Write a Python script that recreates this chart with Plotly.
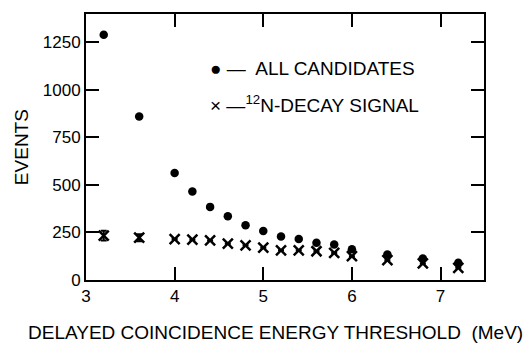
import plotly.graph_objects as go

thresholds = [3.2, 3.6, 4.0, 4.2, 4.4, 4.6, 4.8, 5.0, 5.2, 5.4, 5.6, 5.8, 6.0, 6.4, 6.8, 7.2]
all_candidates = [1288, 859, 562, 465, 384, 335, 288, 257, 229, 215, 196, 187, 161, 134, 113, 90]
n12_signal = [233, 222, 215, 212, 208, 191, 182, 170, 156, 156, 151, 142, 125, 104, 87, 64]
n12_err = [25, 18, 0, 0, 0, 0, 0, 0, 0, 0, 0, 0, 0, 0, 0, 0]

x_ticks = [3, 4, 5, 6, 7]
y_ticks = [0, 250, 500, 750, 1000, 1250]

FONT = "Liberation Sans, Arial, sans-serif"

fig = go.Figure()
fig.add_trace(go.Scatter(
    x=thresholds, y=all_candidates, mode="markers",
    marker=dict(symbol="circle", size=8.5, color="black"),
    showlegend=False))
fig.add_trace(go.Scatter(
    x=thresholds, y=n12_signal, mode="markers",
    marker=dict(symbol="x-thin", size=10, color="black", line=dict(width=2.5, color="black")),
    error_y=dict(type="data", array=n12_err, visible=True, color="black", thickness=2, width=3),
    showlegend=False))

fig.add_annotation(xref="paper", yref="paper", x=0.307, y=0.795, xanchor="left", yanchor="middle",
                   text="\u25CF \u2014  ALL CANDIDATES", showarrow=False,
                   font=dict(family=FONT, size=19, color="black"))
fig.add_annotation(xref="paper", yref="paper", x=0.307, y=0.662, xanchor="left", yanchor="middle",
                   text="\u00D7 \u2014<sup>12</sup>N-DECAY SIGNAL", showarrow=False,
                   font=dict(family=FONT, size=19, color="black"))

# axis titles as annotations (x title is wider than the plot area)
fig.add_annotation(xref="paper", yref="paper", x=0.477, y=-0.198, xanchor="center", yanchor="middle",
                   text="DELAYED COINCIDENCE ENERGY THRESHOLD\u00A0\u00A0(MeV)", showarrow=False,
                   font=dict(family=FONT, size=19, color="black"))
fig.add_annotation(xref="paper", yref="paper", x=-0.163, y=0.50, xanchor="center", yanchor="middle",
                   text="EVENTS", textangle=-90, showarrow=False,
                   font=dict(family=FONT, size=19, color="black"))

axis_common = dict(showline=True, linecolor="black", linewidth=2, mirror="ticks",
                   ticks="inside", tickcolor="black", tickwidth=2, ticklen=13,
                   showgrid=False, zeroline=False,
                   tickfont=dict(family=FONT, size=17, color="black"))

fig.update_xaxes(range=[3, 7.49], tickvals=x_ticks, ticktext=[str(v) for v in x_ticks],
                 **axis_common)
fig.update_yaxes(range=[0, 1397], tickvals=y_ticks, ticktext=[str(v) for v in y_ticks],
                 **axis_common)

fig.update_layout(width=527, height=346, margin=dict(l=86, r=43, t=12, b=66),
                  plot_bgcolor="white", paper_bgcolor="white",
                  font=dict(family=FONT, color="black"))

fig.write_html("out.html")
